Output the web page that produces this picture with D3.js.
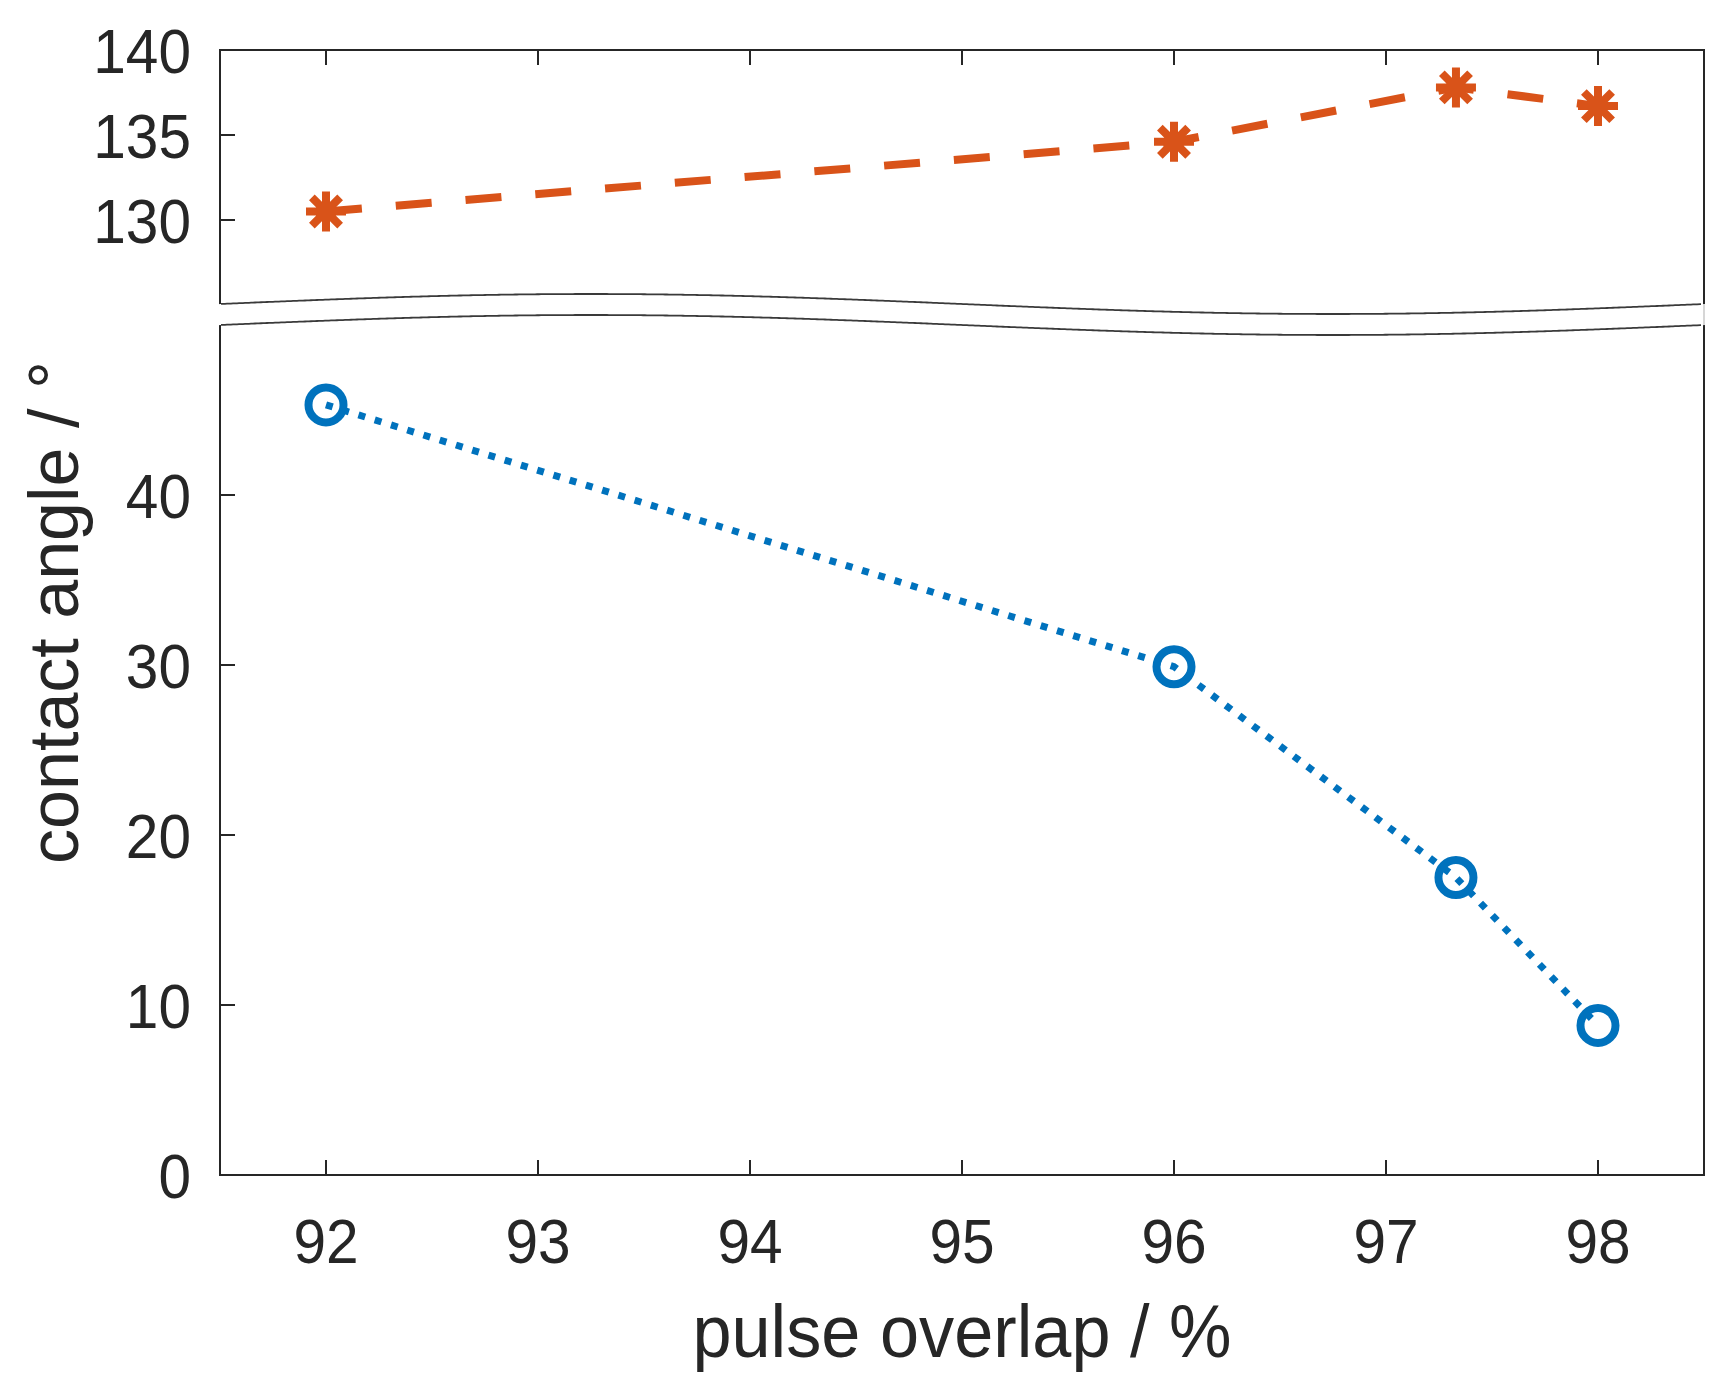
<!DOCTYPE html>
<html>
<head>
<meta charset="utf-8">
<script src="https://cdn.jsdelivr.net/npm/d3@7"></script>
<style>
  body { margin: 0; background: #fff; }
  text { font-family: "Liberation Sans", Arial, sans-serif; fill: #262626; }
</style>
</head>
<body>
<svg id="chart"></svg>
<script>
// data
const overlap = [92, 96, 97.33, 98];
const angleHigh = [130.5, 134.6, 137.8, 136.7];
const angleLow = [45.3, 29.9, 17.5, 8.8];

const xTicks = [92, 93, 94, 95, 96, 97, 98];
const yTicksLow = [0, 10, 20, 30, 40];
const yTicksHigh = [130, 135, 140];

const width = 1728, height = 1388;
const plotLeft = 220, plotRight = 1704, plotTop = 50, plotBottom = 1175;

const svg = d3.select("#chart").attr("width", width).attr("height", height);

const x = d3.scaleLinear().domain([91.5, 98.5]).range([plotLeft, plotRight]);
// broken y axis: 0-50 below, 125-140 above
const y = d3.scaleLinear().domain([0, 50, 125, 140]).range([plotBottom, 325, 305, plotTop]);

const ink = "#262626";
const sx = 0.93; // reference glyphs are a bit narrow

// frame
svg.append("rect")
  .attr("x", plotLeft).attr("y", plotTop)
  .attr("width", plotRight - plotLeft).attr("height", plotBottom - plotTop)
  .attr("fill", "none").attr("stroke", ink).attr("stroke-width", 2);

// ticks
const tickLen = 15;
svg.append("g").selectAll("line").data(xTicks).join("line")
  .attr("x1", (d) => x(d)).attr("x2", (d) => x(d))
  .attr("y1", plotBottom).attr("y2", plotBottom - tickLen)
  .attr("stroke", ink).attr("stroke-width", 2);
svg.append("g").selectAll("line").data(xTicks).join("line")
  .attr("x1", (d) => x(d)).attr("x2", (d) => x(d))
  .attr("y1", plotTop).attr("y2", plotTop + tickLen)
  .attr("stroke", ink).attr("stroke-width", 2);
svg.append("g").selectAll("line").data(yTicksLow.concat(yTicksHigh)).join("line")
  .attr("x1", plotLeft).attr("x2", plotLeft + tickLen)
  .attr("y1", (d) => y(d)).attr("y2", (d) => y(d))
  .attr("stroke", ink).attr("stroke-width", 2);

// tick labels
svg.append("g").selectAll("text").data(xTicks).join("text")
  .attr("transform", (d) => `translate(${x(d)},${plotBottom + 88}) scale(${sx},1)`)
  .attr("text-anchor", "middle")
  .attr("font-size", 63)
  .text((d) => d);
svg.append("g").selectAll("text").data(yTicksLow.concat(yTicksHigh)).join("text")
  .attr("transform", (d) => `translate(191,${y(d) + 23}) scale(${sx},1)`)
  .attr("text-anchor", "end")
  .attr("font-size", 63)
  .text((d) => d);

// axis titles
svg.append("text")
  .attr("transform", `translate(${(plotLeft + plotRight) / 2},1357) scale(0.95,1)`)
  .attr("text-anchor", "middle")
  .attr("font-size", 74)
  .text("pulse overlap / %");
svg.append("text")
  .attr("transform", `translate(78,${(plotTop + plotBottom) / 2}) rotate(-90)`)
  .attr("text-anchor", "middle")
  .attr("font-size", 70)
  .text("contact angle / °");

// axis break: white band between two sine curves
const amp = 10;
const wave = (base) =>
  d3.range(plotLeft - 3, plotRight + 4, 4).map((px) => [
    px,
    base - amp * Math.sin((2 * Math.PI * (px - plotLeft)) / (plotRight - plotLeft)),
  ]);
const upperBase = y(125) - 1;
const lowerBase = y(50);
const upperWave = wave(upperBase);
const lowerWave = wave(lowerBase);

svg.append("path")
  .attr("d", d3.line()(upperWave.concat(lowerWave.slice().reverse())) + "Z")
  .attr("fill", "#fff").attr("stroke", "none");
svg.append("line")
  .attr("x1", plotRight).attr("x2", plotRight)
  .attr("y1", upperBase).attr("y2", lowerBase)
  .attr("stroke", "#c8c8c8").attr("stroke-width", 1.5);
[upperWave, lowerWave].forEach((pts) => {
  svg.append("path")
    .attr("d", d3.line().curve(d3.curveBasis)(pts.filter((p) => p[0] >= plotLeft && p[0] <= plotRight)))
    .attr("fill", "none").attr("stroke", "#3a3a3a").attr("stroke-width", 1.8);
});

// series
const orange = "#D95319", blue = "#0072BD";

const line = (vals) =>
  d3.line().x((d, i) => x(overlap[i])).y((d) => y(d))(vals);

svg.append("path")
  .attr("d", line(angleHigh))
  .attr("fill", "none").attr("stroke", orange)
  .attr("stroke-width", 8).attr("stroke-dasharray", "36 34");

svg.append("path")
  .attr("d", line(angleLow))
  .attr("fill", "none").attr("stroke", blue)
  .attr("stroke-width", 7).attr("stroke-dasharray", "7 10");

// asterisk markers
const r = 20, rd = r * Math.SQRT1_2;
const star = `M${-r},0L${r},0M0,${-r}L0,${r}M${-rd},${-rd}L${rd},${rd}M${-rd},${rd}L${rd},${-rd}`;
svg.append("g").selectAll("path").data(angleHigh).join("path")
  .attr("transform", (d, i) => `translate(${x(overlap[i])},${y(d)})`)
  .attr("d", star)
  .attr("fill", "none").attr("stroke", orange).attr("stroke-width", 8);

// circle markers
svg.append("g").selectAll("circle").data(angleLow).join("circle")
  .attr("cx", (d, i) => x(overlap[i])).attr("cy", (d) => y(d))
  .attr("r", 17.5)
  .attr("fill", "none").attr("stroke", blue).attr("stroke-width", 8);
</script>
</body>
</html>
